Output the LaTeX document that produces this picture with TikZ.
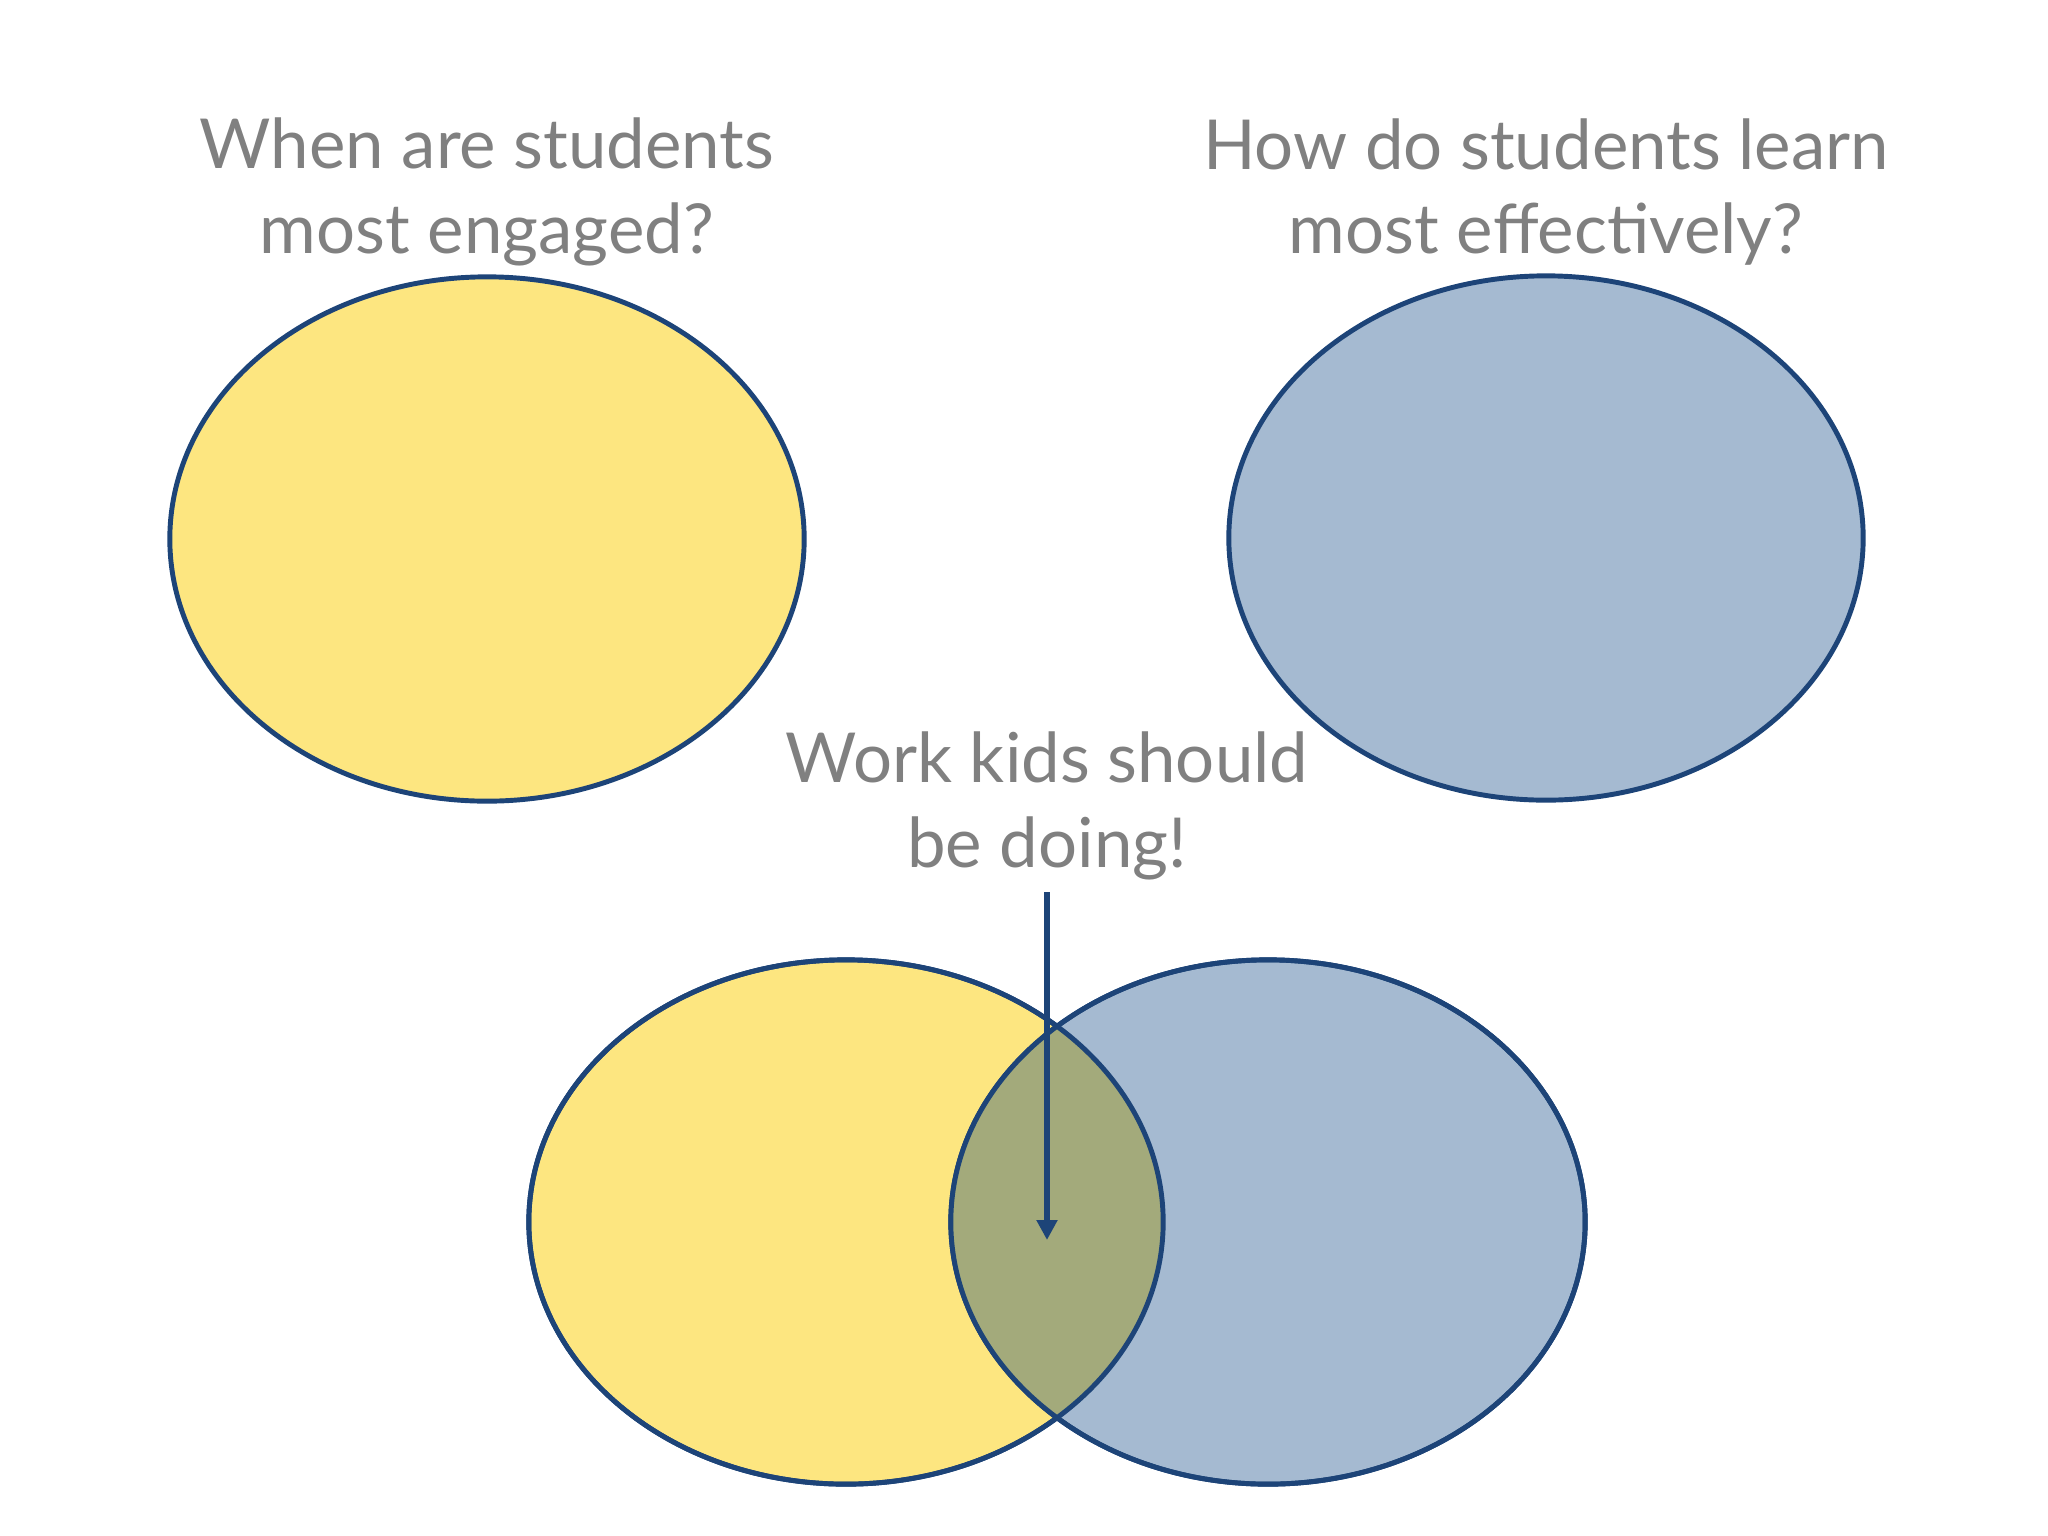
\documentclass[tikz,border=0pt]{standalone}
\usepackage{fontspec}
\setmainfont{Lato}
\usepackage{xcolor}
\usepackage{tikz}
\usetikzlibrary{arrows.meta,shapes.geometric}

\definecolor{sunny}{HTML}{FDE680}
\definecolor{slate}{HTML}{A5BAD1}
\definecolor{olive}{HTML}{A3AA7B}
\definecolor{rim}{HTML}{1D4478}
\definecolor{words}{HTML}{808080}

\begin{document}
\begin{tikzpicture}[x=0.01cm,y=-0.01cm,
  blob/.style={ellipse,draw=rim,line width=1.4pt,inner sep=0pt,
    minimum width=6.34cm,minimum height=5.24cm},
  question/.style={text=words,align=center,font=\fontsize{19.6}{24}\selectfont}]

  \useasboundingbox (0,0) rectangle (2048,1536);

  % the two questions
  \node[blob,fill=sunny] (engaged) at (487,539) {};
  \node[blob,fill=slate] (learn) at (1546,538) {};

  \node[question] (engagedq) at (487,192) {When are students\\most engaged?};
  \node[question] (learnq) at (1546,192) {How do students learn\\most effectively?};

  % the overlap
  \node[blob,fill=sunny] (engagedv) at (846,1222) {};
  \node[blob,fill=slate] (learnv) at (1268,1222) {};
  \begin{scope}
    \clip (engagedv.center) ellipse [x radius=317,y radius=262];
    \fill[olive] (learnv.center) ellipse [x radius=317,y radius=262];
  \end{scope}
  \node[blob] at (engagedv.center) {};
  \node[blob] at (learnv.center) {};

  \node[question] (work) at (1047,806) {Work kids should\\be doing!};
  \coordinate (tip) at (1047,1240);
  \draw[rim,line width=1.6pt,-{Triangle[width=0.2cm,length=0.2cm]}]
    (1047,892) -- (tip);

\end{tikzpicture}
\end{document}
